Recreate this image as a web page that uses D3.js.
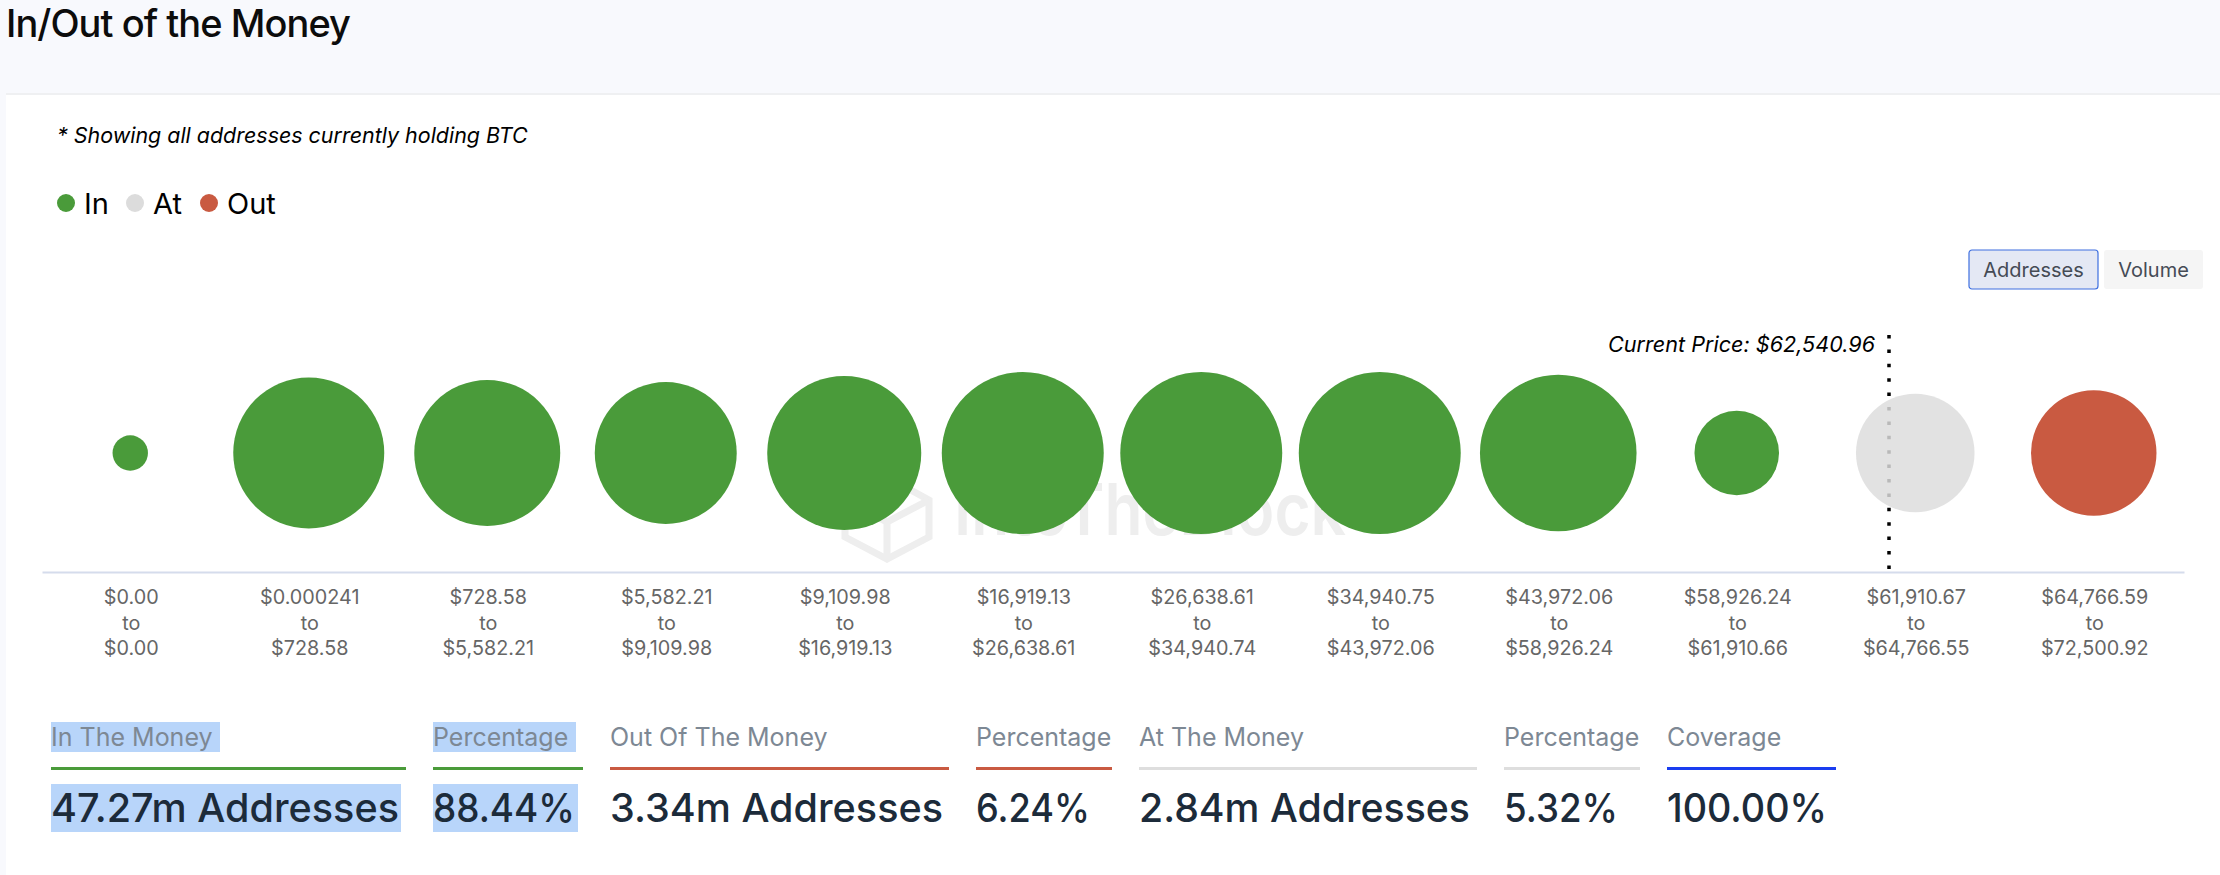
<!DOCTYPE html>
<html>
<head>
<meta charset="utf-8">
<script src="https://cdn.jsdelivr.net/npm/d3@7"></script>
<style>
html, body { margin: 0; padding: 0; background: #fff; }
svg { display: block; font-family: Inter, sans-serif; }
</style>
</head>
<body>
<svg width="2220" height="875"></svg>
<script>
const W = 2220, H = 875;

// Price ranges (low / high end of each cluster)
const rangeFrom = ['$0.00', '$0.000241', '$728.58', '$5,582.21', '$9,109.98', '$16,919.13',
    '$26,638.61', '$34,940.75', '$43,972.06', '$58,926.24', '$61,910.67', '$64,766.59'];
const rangeTo = ['$0.00', '$728.58', '$5,582.21', '$9,109.98', '$16,919.13', '$26,638.61',
    '$34,940.74', '$43,972.06', '$58,926.24', '$61,910.66', '$64,766.55', '$72,500.92'];
// Addresses in millions
const addresses = [0.09, 5.67, 5.15, 4.75, 6.0, 6.93, 6.93, 6.93, 6.29, 1.08, 2.84, 3.34];
const status = ['In', 'In', 'In', 'In', 'In', 'In', 'In', 'In', 'In', 'In', 'At', 'Out'];

const legendNames = ['In', 'At', 'Out'];
const buttonNames = ['Addresses', 'Volume'];
const currentPrice = 'Current Price: $62,540.96';

const statLabels = ['In The Money', 'Percentage', 'Out Of The Money', 'Percentage', 'At The Money', 'Percentage', 'Coverage'];
const statValues = ['47.27m Addresses', '88.44%', '3.34m Addresses', '6.24%', '2.84m Addresses', '5.32%', '100.00%'];

// Layout
const AXIS_LEFT = 42, AXIS_RIGHT = 2184, AXIS_Y = 572, BUBBLE_Y = 453;
const BUBBLE_SHIFT = -1;
const PRICE_X = 1889;
const STAT_LEFT = [51, 433, 610, 976, 1139, 1504, 1667];
const STAT_RIGHT = [406, 583, 949, 1112, 1477, 1640, 1836];
const STAT_VALUE_W = [348, 142, 333, 114, 331, 114, 160];
const STAT_SEL_LABEL = [220, 576];
const STAT_SEL_VALUE = [401, 578];

const GREEN = '#4a9b3a', RED = '#c95a41', GREY = '#dcdcdc', BLUE = '#1a3df0';
const colors = {In: GREEN, At: GREY, Out: RED};
const statColors = [GREEN, GREEN, RED, RED, '#dedede', '#dedede', BLUE];

const svg = d3.select('svg');

// Page background and panel
svg.append('rect').attr('width', W).attr('height', H).attr('fill', '#f8f9fd');
svg.append('rect').attr('x', 6).attr('y', 93).attr('width', W - 6).attr('height', H - 93).attr('fill', '#fff');
svg.append('rect').attr('x', 6).attr('y', 93).attr('width', W - 6).attr('height', 2).attr('fill', '#eff0f2');

svg.append('text').attr('x', 6).attr('y', 37)
    .attr('font-size', 38).attr('font-weight', 500).attr('letter-spacing', -0.95).attr('fill', '#0c0c0c')
    .text('In/Out of the Money');

svg.append('text').attr('x', 57).attr('y', 143)
    .attr('font-size', 21.45).attr('font-style', 'italic').attr('fill', '#000')
    .text('* Showing all addresses currently holding BTC');

// Legend
const legendDotX = [66, 135, 209];
const legend = svg.selectAll('.legend').data(legendNames).join('g')
    .attr('class', 'legend')
    .attr('transform', (d, i) => `translate(${legendDotX[i]},203)`);
legend.append('circle').attr('r', 9).attr('fill', d => colors[d]);
legend.append('text').attr('x', 18).attr('y', 11).attr('font-size', 29).attr('fill', '#000').text(d => d);

// Toggle buttons
const buttonX = [1969, 2104], buttonW = [129, 99];
const buttons = svg.selectAll('.button').data(buttonNames).join('g')
    .attr('class', 'button')
    .attr('transform', (d, i) => `translate(${buttonX[i]},250)`);
buttons.append('rect')
    .attr('width', (d, i) => buttonW[i]).attr('height', 39).attr('rx', 3)
    .attr('fill', (d, i) => i === 0 ? '#e4e8f4' : '#f5f5f5')
    .attr('stroke', (d, i) => i === 0 ? '#3e6fe0' : 'none')
    .attr('stroke-width', 1.2);
buttons.append('text')
    .attr('x', (d, i) => buttonW[i] / 2).attr('y', 27)
    .attr('text-anchor', 'middle').attr('font-size', 20).attr('fill', '#454b55').text(d => d);

// Watermark sits behind the bubbles
const mark = svg.append('g').attr('fill', 'none').attr('stroke', '#eeeeee').attr('stroke-width', 7);
mark.append('path').attr('d', 'M887,477 L929,500 L929,537 L887,559 L845,537 L845,500 Z');
mark.append('path').attr('d', 'M845,500 L887,522 L929,500 M887,522 L887,559');
svg.append('text').attr('x', 954).attr('y', 535)
    .attr('font-size', 72).attr('font-weight', 600).attr('fill', '#eeeeee')
    .attr('textLength', 392).attr('lengthAdjust', 'spacingAndGlyphs').text('IntoTheBlock');

// Scales
const x = d3.scaleBand().domain(d3.range(addresses.length)).range([AXIS_LEFT, AXIS_RIGHT]);
const r = d3.scalePow().exponent(0.35).domain([0, d3.max(addresses)]).range([0, 81]);

// Current price marker is drawn under the bubbles
svg.append('line')
    .attr('x1', PRICE_X).attr('x2', PRICE_X).attr('y1', 335).attr('y2', 569)
    .attr('stroke', '#000').attr('stroke-width', 3.5).attr('stroke-dasharray', '3.5 10.9');
svg.append('text').attr('x', PRICE_X - 14).attr('y', 352)
    .attr('text-anchor', 'end').attr('font-size', 21.6).attr('font-style', 'italic').attr('fill', '#000')
    .text(currentPrice);

svg.selectAll('.bubble').data(addresses).join('circle')
    .attr('class', 'bubble')
    .attr('cx', (d, i) => x(i) + x.bandwidth() / 2 + BUBBLE_SHIFT)
    .attr('cy', BUBBLE_Y)
    .attr('r', d => r(d))
    .attr('fill', (d, i) => colors[status[i]])
    .attr('fill-opacity', (d, i) => status[i] === 'At' ? 0.84 : 1);

// Axis with three line tick labels
const axis = svg.append('g')
    .attr('transform', `translate(0,${AXIS_Y})`)
    .call(d3.axisBottom(x).tickSize(0).tickFormat(() => ''));
axis.select('.domain').attr('stroke', '#d5dcec').attr('stroke-width', 2);
axis.selectAll('.tick text').each(function (d) {
    const t = d3.select(this).attr('y', 0).attr('dy', null)
        .attr('font-family', 'Inter, sans-serif').attr('font-size', 19.8).attr('fill', '#666');
    [rangeFrom[d], 'to', rangeTo[d]].forEach((s, k) => {
        t.append('tspan').attr('x', 0).attr('y', 32 + k * 25.5).text(s);
    });
});

// Summary row, the first two columns were selected in the screenshot
const stats = svg.selectAll('.stat').data(statLabels).join('g').attr('class', 'stat');
stats.filter((d, i) => i < 2).append('rect')
    .attr('x', (d, i) => STAT_LEFT[i]).attr('y', 722)
    .attr('width', (d, i) => STAT_SEL_LABEL[i] - STAT_LEFT[i]).attr('height', 30).attr('fill', '#b8d5fa');
stats.filter((d, i) => i < 2).append('rect')
    .attr('x', (d, i) => STAT_LEFT[i]).attr('y', 784)
    .attr('width', (d, i) => STAT_SEL_VALUE[i] - STAT_LEFT[i]).attr('height', 48).attr('fill', '#b8d5fa');
stats.append('text')
    .attr('x', (d, i) => STAT_LEFT[i]).attr('y', 746)
    .attr('font-size', 25).attr('fill', '#7d8894').text(d => d);
stats.append('rect')
    .attr('x', (d, i) => STAT_LEFT[i]).attr('y', 767)
    .attr('width', (d, i) => STAT_RIGHT[i] - STAT_LEFT[i]).attr('height', 3)
    .attr('fill', (d, i) => statColors[i]);
stats.append('text')
    .attr('x', (d, i) => STAT_LEFT[i]).attr('y', 822)
    .attr('font-size', 40).attr('font-weight', 500).attr('fill', '#1c2b3a')
    .attr('textLength', (d, i) => STAT_VALUE_W[i]).attr('lengthAdjust', 'spacingAndGlyphs')
    .text((d, i) => statValues[i]);
</script>
</body>
</html>
